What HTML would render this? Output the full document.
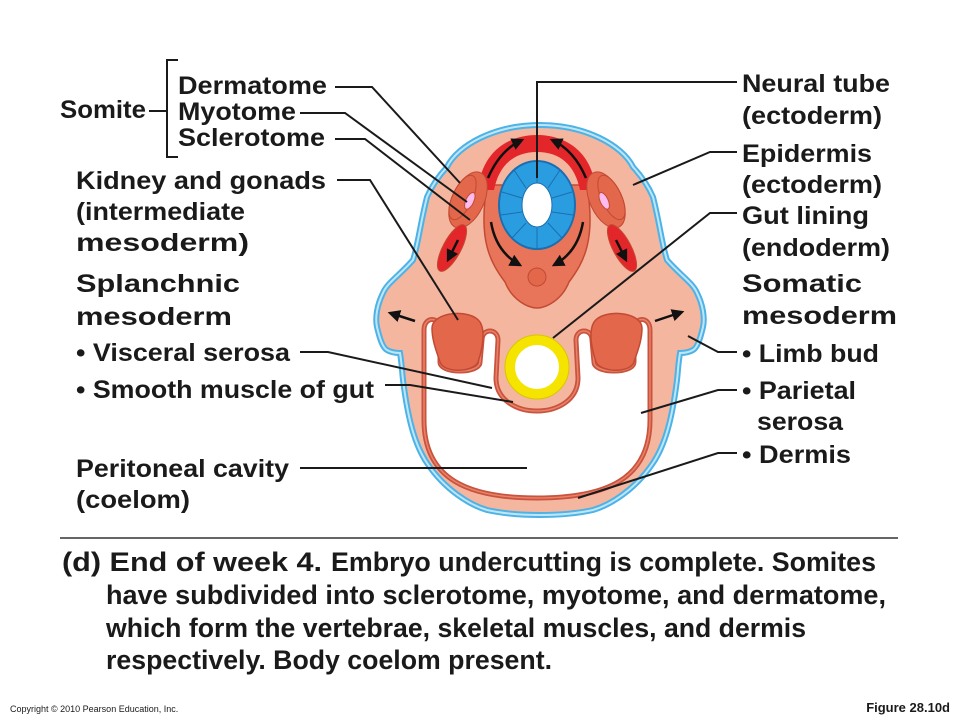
<!DOCTYPE html>
<html><head><meta charset="utf-8"><style>
html,body{margin:0;padding:0;background:#fff}
svg{display:block}
text{font-family:"Liberation Sans",Arial,sans-serif;fill:#1a1a1a}
.b{font-weight:bold;font-size:25px}
.c{font-weight:bold;font-size:27px}
</style></head><body>
<svg width="960" height="720" viewBox="0 0 960 720" xmlns="http://www.w3.org/2000/svg">
<defs>
<marker id="ah" viewBox="0 0 10 10" refX="8" refY="5" markerWidth="5" markerHeight="5" orient="auto"><path d="M0,0 L10,5 L0,10 Z" fill="#111"/></marker>
</defs>
<path d="M540,125 C585,125 622,145 633,167 C645,180 650,190 653,197 C660,225 662,245 667,260 C680,275 693,283 697,293 C703,305 705,318 703,327 C700,340 697,348 693,350 C688,353 683,353 680,353 C678,365 678,372 677,380 C672,420 665,445 653,463 C635,490 610,505 593,510 C575,514 555,515 540,515 C525,515 505,514 487,510 C470,505 445,490 427,463 C415,445 408,420 403,380 C402,372 402,365 400,353 C397,353 392,353 387,350 C383,348 380,340 377,327 C375,318 377,305 383,293 C387,283 400,275 413,260 C418,245 420,225 427,197 C430,190 435,180 447,167 C458,145 495,125 540,125 Z" fill="#f5b6a0" stroke="#4db3e6" stroke-width="6"/>
<path d="M540,125 C585,125 622,145 633,167 C645,180 650,190 653,197 C660,225 662,245 667,260 C680,275 693,283 697,293 C703,305 705,318 703,327 C700,340 697,348 693,350 C688,353 683,353 680,353 C678,365 678,372 677,380 C672,420 665,445 653,463 C635,490 610,505 593,510 C575,514 555,515 540,515 C525,515 505,514 487,510 C470,505 445,490 427,463 C415,445 408,420 403,380 C402,372 402,365 400,353 C397,353 392,353 387,350 C383,348 380,340 377,327 C375,318 377,305 383,293 C387,283 400,275 413,260 C418,245 420,225 427,197 C430,190 435,180 447,167 C458,145 495,125 540,125 Z" fill="none" stroke="#bfe6f8" stroke-width="2"/>
<path d="M424,330 C424,316 440,316 440,330 L440,362 C440,374 480,374 480,362 L482,340 C482,328 498,328 498,340 L496,378 C496,422 578,422 578,378 L576,340 C576,328 592,328 592,340 L594,362 C594,374 634,374 634,362 L634,330 C634,316 650,316 650,330 L650,420 C650,480 605,498 537,498 C469,498 424,480 424,420 Z" fill="#fff" stroke="#c9533d" stroke-width="5"/>
<path d="M424,330 C424,316 440,316 440,330 L440,362 C440,374 480,374 480,362 L482,340 C482,328 498,328 498,340 L496,378 C496,422 578,422 578,378 L576,340 C576,328 592,328 592,340 L594,362 C594,374 634,374 634,362 L634,330 C634,316 650,316 650,330 L650,420 C650,480 605,498 537,498 C469,498 424,480 424,420 Z" fill="none" stroke="#e8826a" stroke-width="1.5"/>
<path d="M432,328 C432,312 470,308 480,322 C486,332 482,350 478,362 C474,372 444,374 440,362 C436,350 432,340 432,328 Z" fill="#e2674b" stroke="#c24a33" stroke-width="1.5"/>
<path d="M642,328 C642,312 604,308 594,322 C588,332 592,350 596,362 C600,372 630,374 634,362 C638,350 642,340 642,328 Z" fill="#e2674b" stroke="#c24a33" stroke-width="1.5"/>
<circle cx="537" cy="367" r="27" fill="#fff" stroke="#f5e400" stroke-width="10"/>
<circle cx="537" cy="367" r="32" fill="none" stroke="#d9c400" stroke-width="1"/>
<path d="M487,185 C478,240 490,262 505,282 C512,300 528,308 537,308 C546,308 562,300 569,282 C584,262 596,240 587,185 Z" fill="#e87559" stroke="#c24a33" stroke-width="1.5"/>
<circle cx="537" cy="277" r="9" fill="#e2674b" stroke="#c24a33"/>
<path d="M478,190 C482,150 510,135 537,135 C564,135 592,150 596,190 L580,190 C575,165 560,152 537,152 C514,152 499,165 494,190 Z" fill="#e3262a"/>
<ellipse cx="537" cy="205" rx="38" ry="44" fill="#2a9de0" stroke="#1b6eb0" stroke-width="2"/>
<g stroke="#1b6eb0" stroke-width="1">
<line x1="537" y1="162" x2="537" y2="183"/><line x1="560" y1="170" x2="548" y2="188"/><line x1="572" y1="192" x2="552" y2="198"/><line x1="573" y1="215" x2="552" y2="212"/><line x1="562" y1="238" x2="548" y2="223"/><line x1="537" y1="248" x2="537" y2="228"/><line x1="512" y1="238" x2="526" y2="223"/><line x1="501" y1="215" x2="522" y2="212"/><line x1="502" y1="192" x2="522" y2="198"/><line x1="514" y1="170" x2="526" y2="188"/>
</g>
<ellipse cx="537" cy="205" rx="15" ry="22" fill="#fff" stroke="#1b6eb0"/>
<g transform="rotate(25 468 200)"><ellipse cx="468" cy="200" rx="16" ry="30" fill="#e2674b" stroke="#c24a33"/><ellipse cx="462" cy="200" rx="10" ry="24" fill="none" stroke="#c24a33"/><ellipse cx="470" cy="200" rx="4" ry="9" fill="#fbe" stroke="#c24a33"/></g>
<g transform="rotate(-25 606 200)"><ellipse cx="606" cy="200" rx="16" ry="30" fill="#e2674b" stroke="#c24a33"/><ellipse cx="612" cy="200" rx="10" ry="24" fill="none" stroke="#c24a33"/><ellipse cx="604" cy="200" rx="4" ry="9" fill="#fbe" stroke="#c24a33"/></g>
<g transform="rotate(28 452 248)"><ellipse cx="452" cy="248" rx="9" ry="26" fill="#e3262a" stroke="#c24a33"/></g>
<g transform="rotate(-28 622 248)"><ellipse cx="622" cy="248" rx="9" ry="26" fill="#e3262a" stroke="#c24a33"/></g>
<g fill="none" stroke="#111" stroke-width="2.5" marker-end="url(#ah)">
<path d="M488,178 Q500,150 522,140"/><path d="M586,178 Q574,150 552,140"/>
<path d="M491,222 Q496,252 520,265"/><path d="M583,222 Q578,252 554,265"/>
<path d="M458,240 L448,260"/><path d="M616,240 L626,260"/>
<path d="M415,321 L390,313"/><path d="M655,321 L682,312"/>
</g>
<g fill="none" stroke="#1a1a1a" stroke-width="2">
<path d="M335,87 H372 L460,183"/><path d="M300,113 H345 L467,202"/><path d="M335,139 H365 L470,220"/>
<path d="M337,180 H370 L458,320"/>
<path d="M737,82 H537 V178"/><path d="M737,152 H710 L633,185"/><path d="M737,213 H710 L553,338"/>
<path d="M737,352 H718 L688,336"/><path d="M737,390 H718 L641,413"/><path d="M737,453 H718 L578,498"/>
<path d="M300,352 H328 L492,388"/><path d="M385,385 H410 L513,402"/><path d="M300,468 H527"/>
<path d="M178,60 H167 V157 H178"/><path d="M149,111 H167"/>
</g>
<line x1="60" y1="538" x2="898" y2="538" stroke="#333" stroke-width="1.5"/>
<text class="b" x="178" y="94" textLength="149" lengthAdjust="spacingAndGlyphs">Dermatome</text>
<text class="b" x="178" y="120" textLength="118" lengthAdjust="spacingAndGlyphs">Myotome</text>
<text class="b" x="178" y="146" textLength="147" lengthAdjust="spacingAndGlyphs">Sclerotome</text>
<text class="b" x="60" y="118" textLength="86" lengthAdjust="spacingAndGlyphs">Somite</text>
<text class="b" x="76" y="189" textLength="250" lengthAdjust="spacingAndGlyphs">Kidney and gonads</text>
<text class="b" x="76" y="220" textLength="169" lengthAdjust="spacingAndGlyphs">(intermediate</text>
<text class="b" x="76" y="251" textLength="173" lengthAdjust="spacingAndGlyphs">mesoderm)</text>
<text class="b" x="76" y="292" textLength="164" lengthAdjust="spacingAndGlyphs">Splanchnic</text>
<text class="b" x="76" y="325" textLength="156" lengthAdjust="spacingAndGlyphs">mesoderm</text>
<text class="b" x="76" y="361" textLength="214" lengthAdjust="spacingAndGlyphs">• Visceral serosa</text>
<text class="b" x="76" y="398" textLength="298" lengthAdjust="spacingAndGlyphs">• Smooth muscle of gut</text>
<text class="b" x="76" y="477" textLength="213" lengthAdjust="spacingAndGlyphs">Peritoneal cavity</text>
<text class="b" x="76" y="508" textLength="114" lengthAdjust="spacingAndGlyphs">(coelom)</text>
<text class="b" x="742" y="92" textLength="148" lengthAdjust="spacingAndGlyphs">Neural tube</text>
<text class="b" x="742" y="124" textLength="140" lengthAdjust="spacingAndGlyphs">(ectoderm)</text>
<text class="b" x="742" y="162" textLength="130" lengthAdjust="spacingAndGlyphs">Epidermis</text>
<text class="b" x="742" y="193" textLength="140" lengthAdjust="spacingAndGlyphs">(ectoderm)</text>
<text class="b" x="742" y="224" textLength="127" lengthAdjust="spacingAndGlyphs">Gut lining</text>
<text class="b" x="742" y="256" textLength="148" lengthAdjust="spacingAndGlyphs">(endoderm)</text>
<text class="b" x="742" y="292" textLength="120" lengthAdjust="spacingAndGlyphs">Somatic</text>
<text class="b" x="742" y="324" textLength="155" lengthAdjust="spacingAndGlyphs">mesoderm</text>
<text class="b" x="742" y="362" textLength="137" lengthAdjust="spacingAndGlyphs">• Limb bud</text>
<text class="b" x="742" y="399" textLength="114" lengthAdjust="spacingAndGlyphs">• Parietal</text>
<text class="b" x="757" y="430" textLength="86" lengthAdjust="spacingAndGlyphs">serosa</text>
<text class="b" x="742" y="463" textLength="109" lengthAdjust="spacingAndGlyphs">• Dermis</text>
<text class="c" x="62" y="571" textLength="260" lengthAdjust="spacingAndGlyphs">(d) End of week 4.</text>
<text class="c" x="331" y="571" textLength="545" lengthAdjust="spacingAndGlyphs">Embryo undercutting is complete. Somites</text>
<text class="c" x="106" y="604" textLength="780" lengthAdjust="spacingAndGlyphs">have subdivided into sclerotome, myotome, and dermatome,</text>
<text class="c" x="106" y="637" textLength="700" lengthAdjust="spacingAndGlyphs">which form the vertebrae, skeletal muscles, and dermis</text>
<text class="c" x="106" y="669" textLength="446" lengthAdjust="spacingAndGlyphs">respectively. Body coelom present.</text>
<text x="10" y="712" font-size="9">Copyright © 2010 Pearson Education, Inc.</text>
<text x="950" y="712" font-size="13" font-weight="bold" text-anchor="end">Figure 28.10d</text>
</svg>
</body></html>
